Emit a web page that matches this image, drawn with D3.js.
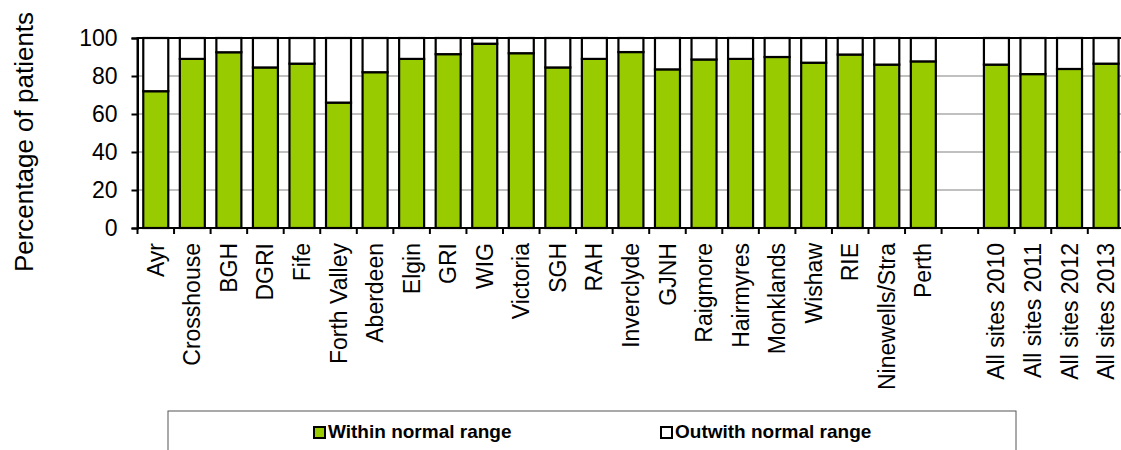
<!DOCTYPE html>
<html>
<head>
<meta charset="utf-8">
<script src="https://cdn.jsdelivr.net/npm/d3@7"></script>
<style>
  html, body { margin: 0; padding: 0; background: #fff; }
  svg { display: block; font-family: Arial, "Liberation Sans", Helvetica, sans-serif; }
</style>
</head>
<body>
<svg id="chart" width="1121" height="450"></svg>
<script>
// ---- data ----
const categories = ["Ayr", "Crosshouse", "BGH", "DGRI", "Fife", "Forth Valley", "Aberdeen", "Elgin",
  "GRI", "WIG", "Victoria", "SGH", "RAH", "Inverclyde", "GJNH", "Raigmore", "Hairmyres",
  "Monklands", "Wishaw", "RIE", "Ninewells/Stra", "Perth", "",
  "All sites 2010", "All sites 2011", "All sites 2012", "All sites 2013"];
const withinValues = [72, 89, 92.5, 84.5, 86.5, 66, 82, 89, 91.5, 97, 92, 84.5, 89, 92.6, 83.5,
  88.7, 89, 90, 87, 91.3, 86, 87.7, null, 86, 81, 83.7, 86.5];
const yTicks = [0, 20, 40, 60, 80, 100];
const seriesNames = ["Within normal range", "Outwith normal range"];
const seriesColors = ["#99cc00", "#ffffff"];

// ---- layout ----
const svg = d3.select("#chart");
const plot = { left: 137.5, top: 38, bottom: 228 };
const slotW = 36.55;
plot.right = plot.left + slotW * categories.length;

const x = d3.scaleBand()
  .domain(categories.map((c, i) => i))
  .range([plot.left, plot.right])
  .paddingInner(0.316)
  .paddingOuter(0.158);
const xSlot = d3.scaleBand()
  .domain(categories.map((c, i) => i))
  .range([plot.left, plot.right]);
const y = d3.scaleLinear().domain([0, 100]).range([plot.bottom, plot.top]);

// gridlines
svg.append("g").selectAll("line")
  .data(yTicks.filter(t => t > 0 && t < 100))
  .join("line")
  .attr("x1", plot.left).attr("x2", plot.right)
  .attr("y1", d => y(d)).attr("y2", d => y(d))
  .attr("stroke", "#c0c0c0").attr("stroke-width", 2);

// plot frame
svg.append("rect")
  .attr("x", plot.left).attr("y", plot.top)
  .attr("width", plot.right - plot.left).attr("height", plot.bottom - plot.top)
  .attr("fill", "none").attr("stroke", "#000").attr("stroke-width", 2);

// stacked bars
const rows = categories.map((c, i) => ({ i, v: withinValues[i] })).filter(d => d.v != null);
const stackData = rows.map(d => ({ i: d.i, within: d.v, outwith: 100 - d.v }));
const stack = d3.stack().keys(["within", "outwith"])(stackData);

svg.append("g").selectAll("g")
  .data(stack)
  .join("g")
  .attr("fill", (d, k) => seriesColors[k])
  .selectAll("rect")
  .data(d => d)
  .join("rect")
  .attr("x", d => x(d.data.i))
  .attr("width", x.bandwidth())
  .attr("y", d => y(d[1]))
  .attr("height", d => y(d[0]) - y(d[1]))
  .attr("stroke", "#000")
  .attr("stroke-width", 2.2);

// y axis
const yAxis = d3.axisLeft(y).tickValues(yTicks).tickSize(6).tickPadding(14);
const gy = svg.append("g").attr("transform", `translate(${plot.left},0)`).call(yAxis);
gy.select(".domain").attr("stroke", "#000").attr("stroke-width", 2);
gy.selectAll(".tick line").attr("stroke", "#000").attr("stroke-width", 2);
gy.selectAll(".tick text").attr("font-size", 23).attr("fill", "#000")
  .attr("font-family", "Arial, 'Liberation Sans', sans-serif");

// x axis: ticks at slot boundaries
const boundaries = d3.range(categories.length + 1).map(k => plot.left + k * slotW);
svg.append("line")
  .attr("x1", plot.left).attr("x2", plot.right)
  .attr("y1", plot.bottom).attr("y2", plot.bottom)
  .attr("stroke", "#000").attr("stroke-width", 2);
svg.append("g").selectAll("line")
  .data(boundaries)
  .join("line")
  .attr("x1", d => d).attr("x2", d => d)
  .attr("y1", plot.bottom).attr("y2", plot.bottom + 6)
  .attr("stroke", "#000").attr("stroke-width", 2);

svg.append("g").selectAll("text")
  .data(categories.map((c, i) => ({ c, i })).filter(d => d.c !== ""))
  .join("text")
  .attr("transform", d => `translate(${xSlot(d.i) + xSlot.bandwidth() / 2},${plot.bottom + 15}) rotate(-90)`)
  .attr("text-anchor", "end")
  .attr("dy", "0.35em")
  .attr("font-size", 23)
  .attr("fill", "#000")
  .text(d => d.c);

// y title
svg.append("text")
  .attr("transform", `translate(33,142) rotate(-90)`)
  .attr("text-anchor", "middle")
  .attr("font-size", 26)
  .attr("fill", "#000")
  .text("Percentage of patients");

// legend
const lg = svg.append("g");
lg.append("rect")
  .attr("x", 168).attr("y", 411).attr("width", 848).attr("height", 60)
  .attr("fill", "none").attr("stroke", "#555").attr("stroke-width", 1);
const legendX = [314, 661];
const items = lg.selectAll("g.item")
  .data(seriesNames)
  .join("g").attr("class", "item")
  .attr("transform", (d, k) => `translate(${legendX[k]},427)`);
items.append("rect")
  .attr("width", 11).attr("height", 11)
  .attr("fill", (d, k) => seriesColors[k])
  .attr("stroke", "#000").attr("stroke-width", 2);
items.append("text")
  .attr("x", 14).attr("y", 11)
  .attr("font-size", 19).attr("font-weight", "bold")
  .attr("fill", "#000")
  .text(d => d);
</script>
</body>
</html>
